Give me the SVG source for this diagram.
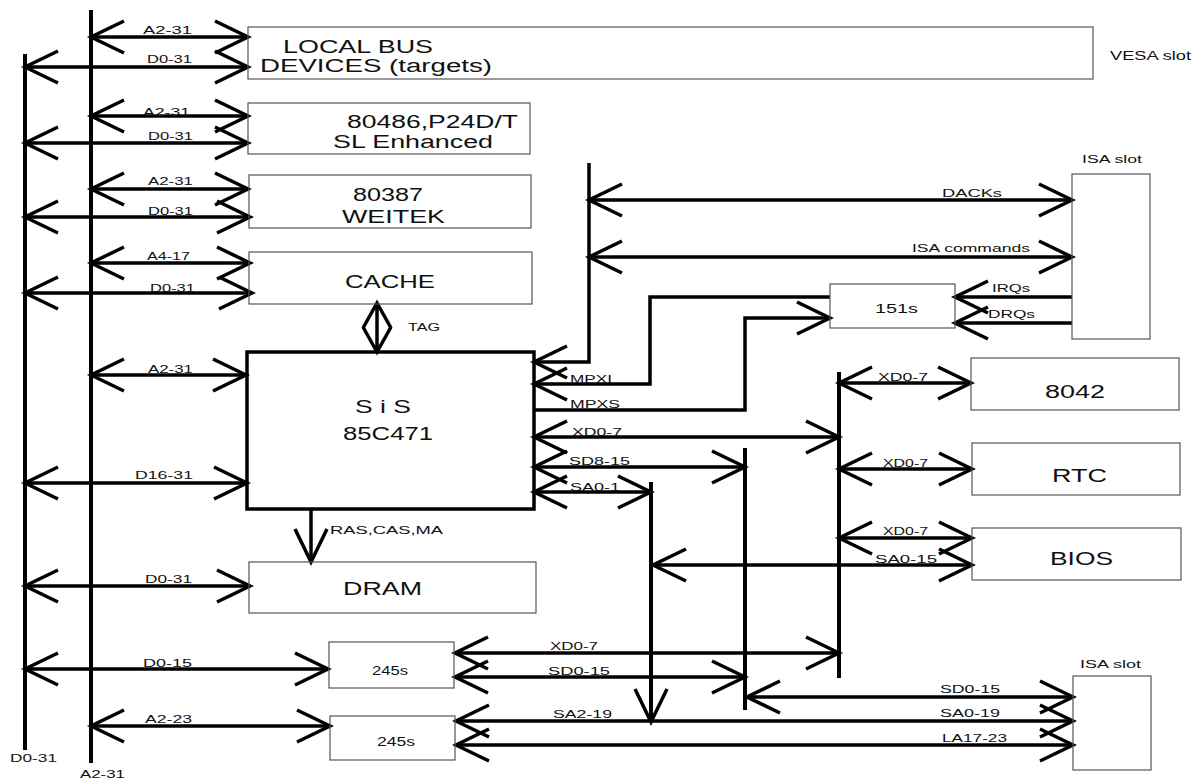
<svg xmlns="http://www.w3.org/2000/svg" width="1199" height="782" viewBox="0 0 1199 782">
<style>
.box{fill:none;stroke:#555;stroke-width:1.2}
.chip{fill:none;stroke:#000;stroke-width:3.5}
.w{fill:none;stroke:#000;stroke-width:3.5}
.bus{fill:none;stroke:#000;stroke-width:4}
.big{font-family:"Liberation Sans",Arial,sans-serif;font-size:18px;fill:#111}
.sm{font-family:"Liberation Sans",Arial,sans-serif;font-size:11px;fill:#111}
.md{font-family:"Liberation Sans",Arial,sans-serif;font-size:12px;fill:#111}
.both{marker-start:url(#ah);marker-end:url(#ah)}
.end{marker-end:url(#ah)}
.tboth{marker-start:url(#ahs);marker-end:url(#ahs)}
</style>
<defs>
<marker id="ah" markerUnits="userSpaceOnUse" orient="auto-start-reverse" viewBox="-38 -20 42 40" markerWidth="42" markerHeight="40" refX="0" refY="0" overflow="visible">
<path d="M-33,-16 L0,0 L-33,16" fill="none" stroke="#000" stroke-width="3.5"/>
</marker>
<marker id="ahs" markerUnits="userSpaceOnUse" orient="auto-start-reverse" viewBox="-30 -18 34 36" markerWidth="34" markerHeight="36" refX="0" refY="0" overflow="visible">
<path d="M-25,-14 L0,0 L-25,14" fill="none" stroke="#000" stroke-width="3.5"/>
</marker>
</defs>
<rect width="1199" height="782" fill="#fff"/>

<g id="connectors">
<line class="bus" x1="25" y1="54" x2="25" y2="750"/>
<line class="bus" x1="91" y1="10" x2="91" y2="763"/>
<line class="w both" x1="91" y1="37" x2="248" y2="37"/>
<line class="w both" x1="25" y1="67" x2="248" y2="67"/>
<line class="w both" x1="91" y1="116" x2="248" y2="116"/>
<line class="w both" x1="25" y1="143" x2="248" y2="143"/>
<line class="w both" x1="91" y1="189" x2="248" y2="189"/>
<line class="w both" x1="25" y1="217" x2="250" y2="217"/>
<line class="w both" x1="91" y1="263" x2="250" y2="263"/>
<line class="w both" x1="25" y1="293" x2="252" y2="293"/>
<line class="w both" x1="91" y1="375" x2="246" y2="375"/>
<line class="w both" x1="25" y1="483" x2="247" y2="483"/>
<line class="w both" x1="25" y1="586" x2="250" y2="586"/>
<line class="w both" x1="25" y1="669" x2="328" y2="669"/>
<line class="w both" x1="91" y1="726" x2="330" y2="726"/>
<line class="w tboth" x1="377" y1="303" x2="377" y2="352"/>
<line class="w end" x1="311" y1="509" x2="311" y2="562"/>
<path class="w end" d="M589,163 V362 H534"/>
<line class="w both" x1="589" y1="200" x2="1072" y2="200"/>
<line class="w both" x1="589" y1="257" x2="1072" y2="257"/>
<path class="w end" d="M830,297 H650 V384 H534"/>
<path class="w end" d="M534,410 H745 V318 H830"/>
<line class="w both" x1="534" y1="437" x2="839" y2="437"/>
<line class="w both" x1="534" y1="467" x2="745" y2="467"/>
<line class="w both" x1="534" y1="492" x2="651" y2="492"/>
<line class="bus" x1="839" y1="372" x2="839" y2="678"/>
<line class="bus" x1="745" y1="448" x2="745" y2="710"/>
<line class="bus end" x1="651" y1="482" x2="651" y2="722"/>
<line class="w both" x1="839" y1="383" x2="971" y2="383"/>
<line class="w both" x1="839" y1="469" x2="972" y2="469"/>
<line class="w both" x1="839" y1="538" x2="972" y2="538"/>
<line class="w both" x1="653" y1="565" x2="972" y2="565"/>
<line class="w end" x1="1072" y1="297" x2="955" y2="297"/>
<line class="w end" x1="1072" y1="323" x2="955" y2="323"/>
<line class="w both" x1="455" y1="653" x2="839" y2="653"/>
<line class="w both" x1="455" y1="677" x2="745" y2="677"/>
<line class="w both" x1="747" y1="697" x2="1073" y2="697"/>
<line class="w both" x1="456" y1="721" x2="1073" y2="721"/>
<line class="w both" x1="456" y1="745" x2="1073" y2="745"/>
</g>

<g id="labels">
<text class="sm" x="143" y="34" textLength="49" lengthAdjust="spacingAndGlyphs">A2-31</text>
<text class="sm" x="147" y="63" textLength="45" lengthAdjust="spacingAndGlyphs">D0-31</text>
<text class="sm" x="143" y="116" textLength="47" lengthAdjust="spacingAndGlyphs">A2-31</text>
<text class="sm" x="148" y="140" textLength="45" lengthAdjust="spacingAndGlyphs">D0-31</text>
<text class="sm" x="148" y="185" textLength="45" lengthAdjust="spacingAndGlyphs">A2-31</text>
<text class="sm" x="148" y="215" textLength="45" lengthAdjust="spacingAndGlyphs">D0-31</text>
<text class="sm" x="147" y="260" textLength="43" lengthAdjust="spacingAndGlyphs">A4-17</text>
<text class="sm" x="150" y="292" textLength="45" lengthAdjust="spacingAndGlyphs">D0-31</text>
<text class="sm" x="148" y="373" textLength="45" lengthAdjust="spacingAndGlyphs">A2-31</text>
<text class="sm" x="135" y="479" textLength="58" lengthAdjust="spacingAndGlyphs">D16-31</text>
<text class="sm" x="145" y="583" textLength="47" lengthAdjust="spacingAndGlyphs">D0-31</text>
<text class="sm" x="143" y="667" textLength="49" lengthAdjust="spacingAndGlyphs">D0-15</text>
<text class="sm" x="145" y="723" textLength="47" lengthAdjust="spacingAndGlyphs">A2-23</text>
<text class="sm" x="10" y="762" textLength="47" lengthAdjust="spacingAndGlyphs">D0-31</text>
<text class="sm" x="80" y="778" textLength="45" lengthAdjust="spacingAndGlyphs">A2-31</text>
<text class="sm" x="408" y="331" textLength="32" lengthAdjust="spacingAndGlyphs">TAG</text>
<text class="sm" x="330" y="534" textLength="113" lengthAdjust="spacingAndGlyphs">RAS,CAS,MA</text>
<text class="sm" x="942" y="197" textLength="60" lengthAdjust="spacingAndGlyphs">DACKs</text>
<text class="sm" x="912" y="252" textLength="118" lengthAdjust="spacingAndGlyphs">ISA commands</text>
<text class="sm" x="992" y="292" textLength="38" lengthAdjust="spacingAndGlyphs">IRQs</text>
<text class="sm" x="988" y="318" textLength="47" lengthAdjust="spacingAndGlyphs">DRQs</text>
<text class="sm" x="570" y="383" textLength="42" lengthAdjust="spacingAndGlyphs">MPXI</text>
<text class="sm" x="570" y="408" textLength="50" lengthAdjust="spacingAndGlyphs">MPXS</text>
<text class="sm" x="572" y="436" textLength="50" lengthAdjust="spacingAndGlyphs">XD0-7</text>
<text class="sm" x="569" y="465" textLength="61" lengthAdjust="spacingAndGlyphs">SD8-15</text>
<text class="sm" x="570" y="491" textLength="50" lengthAdjust="spacingAndGlyphs">SA0-1</text>
<text class="sm" x="878" y="381" textLength="50" lengthAdjust="spacingAndGlyphs">XD0-7</text>
<text class="sm" x="883" y="467" textLength="45" lengthAdjust="spacingAndGlyphs">XD0-7</text>
<text class="sm" x="883" y="535" textLength="45" lengthAdjust="spacingAndGlyphs">XD0-7</text>
<text class="sm" x="875" y="563" textLength="62" lengthAdjust="spacingAndGlyphs">SA0-15</text>
<text class="sm" x="550" y="650" textLength="48" lengthAdjust="spacingAndGlyphs">XD0-7</text>
<text class="sm" x="548" y="675" textLength="62" lengthAdjust="spacingAndGlyphs">SD0-15</text>
<text class="sm" x="553" y="718" textLength="59" lengthAdjust="spacingAndGlyphs">SA2-19</text>
<text class="sm" x="940" y="693" textLength="60" lengthAdjust="spacingAndGlyphs">SD0-15</text>
<text class="sm" x="940" y="717" textLength="60" lengthAdjust="spacingAndGlyphs">SA0-19</text>
<text class="sm" x="942" y="742" textLength="65" lengthAdjust="spacingAndGlyphs">LA17-23</text>
<text class="md" x="1110" y="60" textLength="81" lengthAdjust="spacingAndGlyphs">VESA slot</text>
<text class="sm" x="1082" y="163" textLength="60" lengthAdjust="spacingAndGlyphs">ISA slot</text>
<text class="sm" x="1080" y="668" textLength="61" lengthAdjust="spacingAndGlyphs">ISA slot</text>
</g>

<g id="local-bus-devices">
<rect class="box" x="248" y="27" width="845" height="52"/>
<text class="big" x="283" y="53" textLength="150" lengthAdjust="spacingAndGlyphs">LOCAL BUS</text>
<text class="big" x="260" y="72" textLength="232" lengthAdjust="spacingAndGlyphs">DEVICES (targets)</text>
</g>
<g id="cpu-80486">
<rect class="box" x="248" y="103" width="282" height="51"/>
<text class="big" x="347" y="128" textLength="171" lengthAdjust="spacingAndGlyphs">80486,P24D/T</text>
<text class="big" x="333" y="148" textLength="160" lengthAdjust="spacingAndGlyphs">SL Enhanced</text>
</g>
<g id="fpu-80387">
<rect class="box" x="249" y="175" width="282" height="53"/>
<text class="big" x="353" y="201" textLength="70" lengthAdjust="spacingAndGlyphs">80387</text>
<text class="big" x="342" y="223" textLength="103" lengthAdjust="spacingAndGlyphs">WEITEK</text>
</g>
<g id="cache">
<rect class="box" x="249" y="252" width="283" height="52"/>
<text class="big" x="345" y="288" textLength="90" lengthAdjust="spacingAndGlyphs">CACHE</text>
</g>
<g id="sis-85c471">
<rect class="chip" x="247" y="352" width="287" height="157"/>
<text class="big" x="355" y="413" textLength="56" lengthAdjust="spacingAndGlyphs">S i S</text>
<text class="big" x="343" y="440" textLength="90" lengthAdjust="spacingAndGlyphs">85C471</text>
</g>
<g id="dram">
<rect class="box" x="249" y="562" width="287" height="51"/>
<text class="big" x="343" y="595" textLength="79" lengthAdjust="spacingAndGlyphs">DRAM</text>
</g>
<g id="buf-245s-1">
<rect class="box" x="329" y="642" width="125" height="46"/>
<text class="md" x="372" y="675" textLength="36" lengthAdjust="spacingAndGlyphs">245s</text>
</g>
<g id="buf-245s-2">
<rect class="box" x="330" y="716" width="125" height="44"/>
<text class="md" x="377" y="746" textLength="38" lengthAdjust="spacingAndGlyphs">245s</text>
</g>
<g id="mux-151s">
<rect class="box" x="830" y="284" width="125" height="44"/>
<text class="md" x="875" y="313" textLength="43" lengthAdjust="spacingAndGlyphs">151s</text>
</g>
<g id="isa-slot-top">
<rect class="box" x="1072" y="174" width="78" height="165"/>
</g>
<g id="kbc-8042">
<rect class="box" x="971" y="358" width="208" height="52"/>
<text class="big" x="1045" y="398" textLength="60" lengthAdjust="spacingAndGlyphs">8042</text>
</g>
<g id="rtc">
<rect class="box" x="972" y="443" width="208" height="52"/>
<text class="big" x="1052" y="482" textLength="55" lengthAdjust="spacingAndGlyphs">RTC</text>
</g>
<g id="bios">
<rect class="box" x="972" y="528" width="209" height="52"/>
<text class="big" x="1050" y="565" textLength="63" lengthAdjust="spacingAndGlyphs">BIOS</text>
</g>
<g id="isa-slot-bottom">
<rect class="box" x="1073" y="676" width="78" height="94"/>
</g>
</svg>
